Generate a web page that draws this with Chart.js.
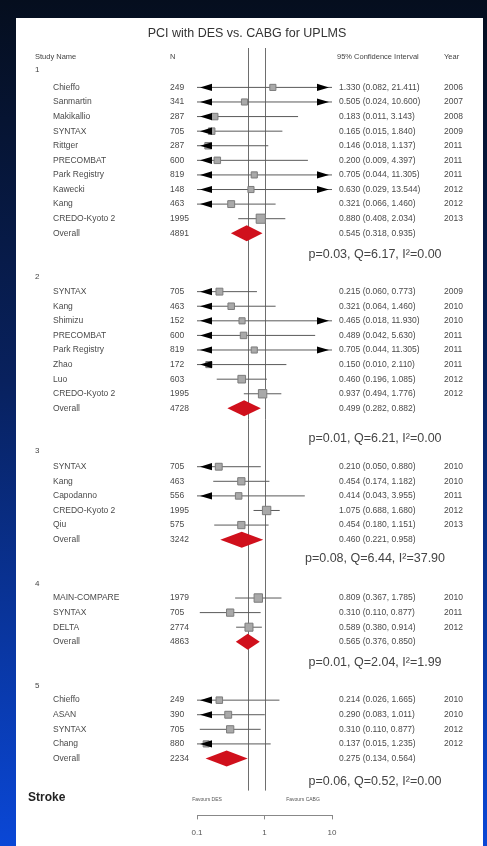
<!DOCTYPE html>
<html><head><meta charset="utf-8">
<script src="https://cdn.jsdelivr.net/npm/chart.js@4.4.1/dist/chart.umd.min.js"></script>
<style>
html,body{margin:0;padding:0;}
body{width:487px;height:846px;overflow:hidden;position:relative;background:linear-gradient(to bottom,#050e1e 0%,#08215e 45%,#0a47d6 100%);}
#panel{position:absolute;left:16px;top:18px;width:467px;height:828px;background:#fff;}
#c{position:absolute;left:0;top:0;}
</style></head><body>
<div id="panel"></div>
<canvas id="c" width="487" height="846"></canvas>
<script>
// ---------- DATA ----------
const chartTitle = "PCI with DES vs. CABG for UPLMS";
const outcomeLabel = "Stroke";
const groupLabels = ["1", "2", "3", "4", "5"];
const xTickValues = [0.1, 1, 10];
const favoursLeft = "Favours DES";
const favoursRight = "Favours CABG";
const referenceValue = 1;
const pooledReference = 0.56;

const g1Names = ["Chieffo", "Sanmartin", "Makikallio", "SYNTAX", "Rittger", "PRECOMBAT", "Park Registry", "Kawecki", "Kang", "CREDO-Kyoto 2"];
const g1N     = ["249", "341", "287", "705", "287", "600", "819", "148", "463", "1995"];
const g1Est   = [1.330, 0.505, 0.183, 0.165, 0.146, 0.200, 0.705, 0.630, 0.321, 0.880];
const g1Lo    = [0.082, 0.024, 0.011, 0.015, 0.018, 0.009, 0.044, 0.029, 0.066, 0.408];
const g1Hi    = [21.411, 10.600, 3.143, 1.840, 1.137, 4.397, 11.305, 13.544, 1.460, 2.034];
const g1Year  = ["2006", "2007", "2008", "2009", "2011", "2011", "2011", "2012", "2012", "2013"];
const g1Weight = [4, 4, 5, 5, 5, 5, 4, 4, 6, 12];

const g2Names = ["SYNTAX", "Kang", "Shimizu", "PRECOMBAT", "Park Registry", "Zhao", "Luo", "CREDO-Kyoto 2"];
const g2N     = ["705", "463", "152", "600", "819", "172", "603", "1995"];
const g2Est   = [0.215, 0.321, 0.465, 0.489, 0.705, 0.150, 0.460, 0.937];
const g2Lo    = [0.060, 0.064, 0.018, 0.042, 0.044, 0.010, 0.196, 0.494];
const g2Hi    = [0.773, 1.460, 11.930, 5.630, 11.305, 2.110, 1.085, 1.776];
const g2Year  = ["2009", "2010", "2010", "2011", "2011", "2011", "2012", "2012"];
const g2Weight = [6, 5, 4, 5, 4, 4, 8, 10];

const g3Names = ["SYNTAX", "Kang", "Capodanno", "CREDO-Kyoto 2", "Qiu"];
const g3N     = ["705", "463", "556", "1995", "575"];
const g3Est   = [0.210, 0.454, 0.414, 1.075, 0.454];
const g3Lo    = [0.050, 0.174, 0.043, 0.688, 0.180];
const g3Hi    = [0.880, 1.182, 3.955, 1.680, 1.151];
const g3Year  = ["2010", "2010", "2011", "2012", "2013"];
const g3Weight = [6, 7, 5, 10, 7];

const g4Names = ["MAIN-COMPARE", "SYNTAX", "DELTA"];
const g4N     = ["1979", "705", "2774"];
const g4Est   = [0.809, 0.310, 0.589];
const g4Lo    = [0.367, 0.110, 0.380];
const g4Hi    = [1.785, 0.877, 0.914];
const g4Year  = ["2010", "2011", "2012"];
const g4Weight = [10, 7, 9];

const g5Names = ["Chieffo", "ASAN", "SYNTAX", "Chang"];
const g5N     = ["249", "390", "705", "880"];
const g5Est   = [0.214, 0.290, 0.310, 0.137];
const g5Lo    = [0.026, 0.083, 0.110, 0.015];
const g5Hi    = [1.665, 1.011, 0.877, 1.235];
const g5Year  = ["2010", "2010", "2012", "2012"];
const g5Weight = [5, 6, 7, 4];

const overallN   = ["4891", "4728", "3242", "4863", "2234"];
const overallEst = [0.545, 0.499, 0.460, 0.565, 0.275];
const overallLo  = [0.318, 0.282, 0.221, 0.376, 0.134];
const overallHi  = [0.935, 0.882, 0.958, 0.850, 0.564];

const pValues  = [0.03, 0.01, 0.08, 0.01, 0.06];
const qValues  = [6.17, 6.21, 6.44, 2.04, 0.52];
const i2Values = [0.00, 0.00, 37.90, 1.99, 0.00];

// ---------- LAYOUT (row slots) ----------
const groupFirstSlot = [0, 14, 26, 35, 42];
const groupLabelOffset = [1.2, 1.0, 1.1, 1.0, 1.0];
const statsGap = [1.45, 2.05, 1.3, 1.45, 1.6];

const groups = [
  {names: g1Names, n: g1N, est: g1Est, lo: g1Lo, hi: g1Hi, year: g1Year, w: g1Weight},
  {names: g2Names, n: g2N, est: g2Est, lo: g2Lo, hi: g2Hi, year: g2Year, w: g2Weight},
  {names: g3Names, n: g3N, est: g3Est, lo: g3Lo, hi: g3Hi, year: g3Year, w: g3Weight},
  {names: g4Names, n: g4N, est: g4Est, lo: g4Lo, hi: g4Hi, year: g4Year, w: g4Weight},
  {names: g5Names, n: g5N, est: g5Est, lo: g5Lo, hi: g5Hi, year: g5Year, w: g5Weight}
];

const rows = [];      // study rows
const overalls = [];  // pooled rows
groups.forEach((g, gi) => {
  g.names.forEach((nm, i) => {
    rows.push({slot: groupFirstSlot[gi] + i, name: nm, n: g.n[i], est: g.est[i], lo: g.lo[i], hi: g.hi[i], year: g.year[i], w: g.w[i]});
  });
  overalls.push({slot: groupFirstSlot[gi] + g.names.length, n: overallN[gi], est: overallEst[gi], lo: overallLo[gi], hi: overallHi[gi], gi});
});

const ciData = [];
rows.forEach(r => {
  ciData.push({x: r.lo, y: r.slot});
  ciData.push({x: r.hi, y: r.slot});
  ciData.push({x: r.hi, y: null});
});
const sqData = rows.map(r => ({x: r.est, y: r.slot}));
const sqRadius = rows.map(r => (4.6 + r.w * 0.38) / 1.414);

const FONT = "'Liberation Sans', Arial, sans-serif";
const fmt3 = v => v.toFixed(3);

const forestPlugin = {
  id: 'forest',
  beforeDatasetsDraw(chart) {
    const c = chart.ctx, xs = chart.scales.x, ys = chart.scales.y;
    c.save();
    c.strokeStyle = '#6e6e6e';
    c.lineWidth = 1;
    [pooledReference, referenceValue].forEach(v => {
      const x = Math.round(xs.getPixelForValue(v)) + 0.5;
      c.beginPath();
      c.moveTo(x, chart.chartArea.top);
      c.lineTo(x, ys.getPixelForValue(48.2));
      c.stroke();
    });
    c.restore();
  },
  afterDatasetsDraw(chart) {
    const c = chart.ctx, xs = chart.scales.x, ys = chart.scales.y;
    const xMin = xs.getPixelForValue(xs.min), xMax = xs.getPixelForValue(xs.max);
    c.save();
    c.fillStyle = '#000';
    rows.forEach(r => {
      const y = ys.getPixelForValue(r.slot);
      if (r.lo < xs.min) {
        const tip = xMin + 3;
        c.beginPath(); c.moveTo(tip, y); c.lineTo(tip + 12, y - 3.6); c.lineTo(tip + 12, y + 3.6); c.closePath(); c.fill();
      }
      if (r.hi > xs.max) {
        const tip = xMax - 3;
        c.beginPath(); c.moveTo(tip, y); c.lineTo(tip - 12, y - 3.6); c.lineTo(tip - 12, y + 3.6); c.closePath(); c.fill();
      }
    });
    c.fillStyle = '#d0101c';
    overalls.forEach(o => {
      const y = ys.getPixelForValue(o.slot);
      const xl = xs.getPixelForValue(o.lo), xe = xs.getPixelForValue(o.est), xh = xs.getPixelForValue(o.hi);
      c.beginPath(); c.moveTo(xl, y); c.lineTo(xe, y - 8); c.lineTo(xh, y); c.lineTo(xe, y + 8); c.closePath(); c.fill();
    });
    c.restore();
  },
  afterDraw(chart) {
    const c = chart.ctx, xs = chart.scales.x, ys = chart.scales.y;
    c.save();
    c.textBaseline = 'middle';
    c.fillStyle = '#333';
    c.font = '12.5px ' + FONT;
    c.textAlign = 'center';
    c.fillText(chartTitle, 247, ys.getPixelForValue(-3.72));
    c.font = '7.5px ' + FONT;
    c.fillStyle = '#444';
    c.textAlign = 'left';
    const hy = ys.getPixelForValue(-2.08);
    c.fillText('Study Name', 35, hy);
    c.fillText('N', 170, hy);
    c.fillText('95% Confidence Interval', 337, hy);
    c.fillText('Year', 444, hy);
    c.font = '8px ' + FONT;
    groupLabels.forEach((g, gi) => {
      c.fillText(g, 35, ys.getPixelForValue(groupFirstSlot[gi] - groupLabelOffset[gi]));
    });
    c.font = '8.5px ' + FONT;
    c.fillStyle = '#4a4a4a';
    rows.forEach(r => {
      const y = ys.getPixelForValue(r.slot);
      c.fillText(r.name, 53, y);
      c.fillText(r.n, 170, y);
      c.fillText(fmt3(r.est) + ' (' + fmt3(r.lo) + ', ' + fmt3(r.hi) + ')', 339, y);
      c.fillText(r.year, 444, y);
    });
    overalls.forEach(o => {
      const y = ys.getPixelForValue(o.slot);
      c.fillText('Overall', 53, y);
      c.fillText(o.n, 170, y);
      c.fillText(fmt3(o.est) + ' (' + fmt3(o.lo) + ', ' + fmt3(o.hi) + ')', 339, y);
    });
    c.font = '12.5px ' + FONT;
    c.fillStyle = '#444';
    c.textAlign = 'center';
    overalls.forEach(o => {
      const gi = o.gi;
      const txt = 'p=' + pValues[gi].toFixed(2) + ', Q=' + qValues[gi].toFixed(2) + ', I\u00B2=' + i2Values[gi].toFixed(2);
      c.fillText(txt, 375, ys.getPixelForValue(o.slot + statsGap[gi]));
    });
    c.textAlign = 'left';
    c.font = 'bold 12px ' + FONT;
    c.fillStyle = '#222';
    c.fillText(outcomeLabel, 28, ys.getPixelForValue(48.66));
    c.font = '5px ' + FONT;
    c.fillStyle = '#555';
    c.textAlign = 'center';
    c.fillText(favoursLeft, 207, ys.getPixelForValue(48.8));
    c.fillText(favoursRight, 303, ys.getPixelForValue(48.8));
    c.restore();
  }
};

const chart = new Chart(document.getElementById('c').getContext('2d'), {
  type: 'scatter',
  data: {
    datasets: [
      {type: 'line', data: ciData, borderColor: '#5a5a5a', borderWidth: 1, pointRadius: 0, spanGaps: false, fill: false, order: 2},
      {type: 'scatter', data: sqData, pointStyle: 'rect', pointRadius: sqRadius, backgroundColor: '#a9a9a9', borderColor: '#7c7c7c', borderWidth: 1, order: 1}
    ]
  },
  options: {
    responsive: false,
    animation: false,
    devicePixelRatio: 1,
    layout: {padding: {left: 197, right: 155, top: 48, bottom: -1}},
    plugins: {legend: {display: false}, tooltip: {enabled: false}},
    scales: {
      x: {
        type: 'logarithmic', min: 0.1, max: 10, position: 'bottom',
        grid: {drawOnChartArea: false, drawTicks: true, tickLength: 4, color: '#888'},
        border: {display: true, color: '#888'},
        afterBuildTicks: s => { s.ticks = xTickValues.map(v => ({value: v})); },
        ticks: {font: {size: 8, family: FONT}, color: '#555', padding: 9, maxRotation: 0, autoSkip: false,
                callback: v => String(v)}
      },
      y: {type: 'linear', min: -2.7, max: 49.9, reverse: true, display: false}
    }
  },
  plugins: [forestPlugin]
});
</script>
</body></html>
